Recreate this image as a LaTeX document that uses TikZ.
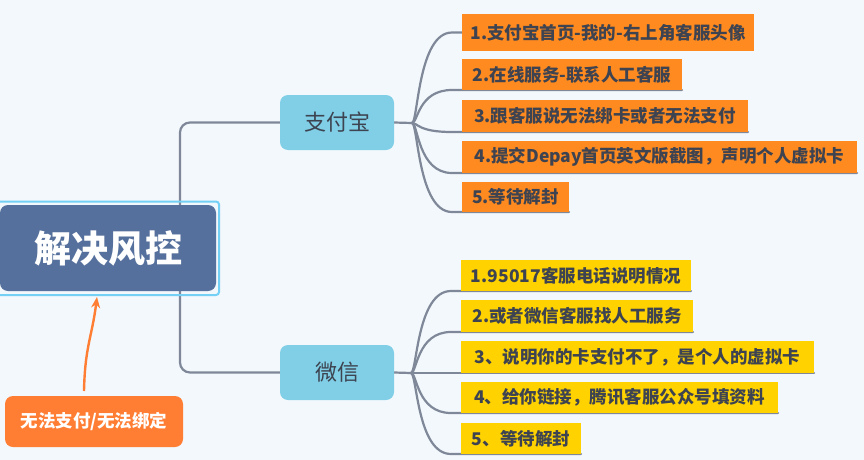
\documentclass[tikz,border=0pt]{standalone}
\usepackage{fontspec}
\setmainfont{Noto Sans CJK SC}
\usetikzlibrary{arrows.meta}
\definecolor{bgc}{HTML}{F3F8FC}
\definecolor{rootc}{HTML}{55709C}
\definecolor{selc}{HTML}{74D0F4}
\definecolor{lvl}{HTML}{80CFE6}
\definecolor{orc}{HTML}{FF8A1F}
\definecolor{yec}{HTML}{FFD200}
\definecolor{notec}{HTML}{FF7E33}
\definecolor{linec}{HTML}{7E8898}
\definecolor{txtc}{HTML}{3D4350}
\pgfdeclarelayer{bglayer}
\pgfdeclarelayer{linelayer}
\pgfsetlayers{bglayer,linelayer,main}
\tikzset{
  box/.style={inner sep=0pt, outer sep=0pt, anchor=north west, align=center},
  rootbox/.style={box, fill=rootc, rounded corners=8pt, text=white, font=\fontsize{37}{40}\selectfont\bfseries},
  lvlbox/.style={box, fill=lvl, rounded corners=8pt, text=txtc, font=\fontsize{22}{24}\selectfont, minimum width=114pt, minimum height=55pt},
  alibox/.style={box, fill=orc, text=txtc, font=\fontsize{17.5}{19}\selectfont\bfseries},
  wxbox/.style={box, fill=yec, text=txtc, font=\fontsize{17.5}{19}\selectfont\bfseries},
  notebox/.style={box, fill=notec, rounded corners=8pt, text=white, font=\fontsize{17.5}{19}\selectfont\bfseries},
  conn/.style={draw=linec, line width=2.2pt, line cap=round},
  brc/.style={conn},
  arr/.style={draw=notec, line width=2.4pt, -{Stealth[length=11pt,width=9pt]}}
}
\begin{document}
\begin{tikzpicture}[x=1pt,y=-1pt]
\begin{pgfonlayer}{bglayer}
\fill[bgc] (0,0) rectangle (864,460);
\end{pgfonlayer}
\useasboundingbox (0,0) rectangle (864,460);

% root
\node[rootbox, minimum width=216pt, minimum height=86pt] (root) at (0,205) {解决风控};
\draw[selc, line width=2pt, rounded corners=3pt] ([xshift=-4pt,yshift=3.5pt]root.north west) rectangle ([xshift=3pt,yshift=-4pt]root.south east);

% level 1
\node[lvlbox] (zfb) at (280,95) {支付宝};
\node[lvlbox] (wx) at (280,345) {微信};

% alipay children
\node[alibox, minimum width=292pt, minimum height=37pt] (a1) at (462,14) {1.支付宝首页-我的-右上角客服头像};
\node[alibox, minimum width=220pt, minimum height=31pt] (a2) at (462,59) {2.在线服务-联系人工客服};
\node[alibox, minimum width=286pt, minimum height=32pt] (a3) at (462,100) {3.跟客服说无法绑卡或者无法支付};
\node[alibox, minimum width=395pt, minimum height=32pt] (a4) at (462,141) {4.提交Depay首页英文版截图，声明个人虚拟卡};
\node[alibox, minimum width=107pt, minimum height=30pt] (a5) at (462,182) {5.等待解封};

% wechat children
\node[wxbox, minimum width=230pt, minimum height=31pt] (w1) at (461,260) {1.95017客服电话说明情况};
\node[wxbox, minimum width=232pt, minimum height=32pt] (w2) at (461,300) {2.或者微信客服找人工服务};
\node[wxbox, minimum width=353pt, minimum height=32pt] (w3) at (461,341) {3、说明你的卡支付不了，是个人的虚拟卡};
\node[wxbox, minimum width=317pt, minimum height=31pt] (w4) at (461,382) {4、给你链接，腾讯客服公众号填资料};
\node[wxbox, minimum width=120pt, minimum height=31pt] (w5) at (461,423) {5、等待解封};

% note
\node[notebox, minimum width=178pt, minimum height=51pt] (note) at (5,396) {无法支付/无法绑定};

\coordinate (rj) at (180,248);
\coordinate (zf) at (412,123);
\coordinate (wf) at (411,373);

\begin{pgfonlayer}{linelayer}
\draw[conn, rounded corners=10pt] (rj) |- (zfb.west);
\draw[conn, rounded corners=10pt] (rj) |- (wx.west);
\draw[conn] (zfb.east) -- (zf);
\draw[conn] (wx.east) -- (wf);
% alipay branches
\draw[brc] (zf) .. controls +(6,0) and +(-34,0) .. ([xshift=-10pt]a1.west) -- (a1.west);
\foreach \n in {a2,a3,a4,a5}{
  \draw[brc] (zf) .. controls +(6,0) and +(-34,0) .. ([xshift=-10pt]\n.south west) -- (\n.south east);
}
\foreach \n in {w1,w2,w3,w4,w5}{
  \draw[brc] (wf) .. controls +(6,0) and +(-34,0) .. ([xshift=-10pt]\n.south west) -- (\n.south east);
}
\end{pgfonlayer}

\draw[arr] ([xshift=-10pt,yshift=5pt]note.north) .. controls +(1,-45) and +(-5,40) .. ([xshift=-11pt,yshift=-6pt]root.south);
\end{tikzpicture}
\end{document}
